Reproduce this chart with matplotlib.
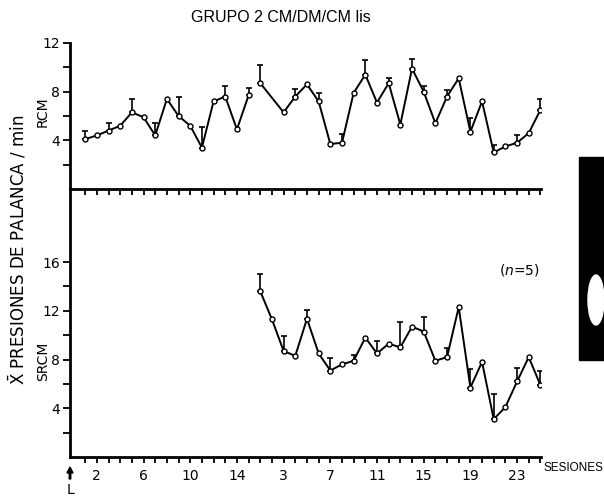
import numpy as np
import matplotlib
matplotlib.use("Agg")
import matplotlib.pyplot as plt
from matplotlib.patches import Rectangle, Ellipse, FancyArrow

nan = np.nan

# Session numbers within each phase
sessions_a = list(range(1, 16))          # first phase (15 sessions)
sessions_b = list(range(1, 26))          # second phase (25 sessions)

# RCM, first phase: means and tops of the error bars (nan = no bar)
rcm_a = [4.1, 4.4, 4.8, 5.2, 6.3, 5.9, 4.4, 7.4, 6.0, 5.2, 3.4, 7.2, 7.6, 4.9, 7.7]
rcm_a_top = [4.8, nan, 5.4, nan, 7.4, nan, 5.4, nan, 7.6, nan, 5.1, nan, 8.5, nan, 8.3]

# RCM, second phase
rcm_b = [8.7, nan, 6.3, 7.6, 8.6, 7.2, 3.7, 3.8, 7.9, 9.4, 7.1, 8.7, 5.3,
         9.9, 8.0, 5.4, 7.6, 9.1, 4.7, 7.2, 3.0, 3.5, 3.8, 4.6, 6.5]
rcm_b_top = [10.2, nan, nan, 8.2, nan, 7.9, nan, 4.55, nan, 10.6, nan, 9.1, nan,
             10.7, 8.5, nan, 8.1, nan, 5.8, nan, 3.65, nan, 4.4, nan, 7.4]

# SRCM, second phase
srcm_b = [13.6, 11.3, 8.7, 8.3, 11.35, 8.5, 7.1, 7.6, 7.9, 9.8, 8.5, 9.3, 9.0,
          10.7, 10.3, 7.9, 8.2, 12.3, 5.7, 7.8, 3.1, 4.1, 6.2, 8.2, 5.9]
srcm_b_top = [15.0, nan, 9.9, nan, 12.1, nan, 8.15, nan, 8.4, nan, 9.5, nan, 11.1,
              nan, 11.5, nan, 8.95, nan, 7.25, nan, 5.2, nan, 7.3, nan, 7.1]

# Tick labels on the session axis
labels_a = [2, 6, 10, 14]
labels_b = [3, 7, 11, 15, 19, 23]

n_a = len(sessions_a)


def pos_a(s):
    return np.asarray(s, dtype=float)


def pos_b(s):
    return np.asarray(s, dtype=float) + n_a


W, H = 604, 497
fig = plt.figure(figsize=(W / 100, H / 100), dpi=100)

left, right = 70 / W, 541 / W
ax_top = fig.add_axes([left, 1 - 189 / H, right - left, (189 - 43) / H])
ax_bot = fig.add_axes([left, 1 - 457 / H, right - left, (457 - 189) / H])

lw = 1.4
mk = dict(marker="o", markersize=3.6, markerfacecolor="white",
          markeredgecolor="black", markeredgewidth=1.0)


def draw_series(ax, x, y, top):
    x = np.asarray(x, float)
    y = np.asarray(y, float)
    top = np.asarray(top, float)
    ok = ~np.isnan(y)
    eb = ~np.isnan(top)
    ax.errorbar(x[eb], y[eb], yerr=[np.zeros(eb.sum()), top[eb] - y[eb]],
                fmt="none", ecolor="black", elinewidth=1.2, capsize=2.2,
                capthick=1.2, zorder=2)
    ax.plot(x[ok], y[ok], color="black", lw=lw, zorder=3, **mk)


draw_series(ax_top, pos_a(sessions_a), rcm_a, rcm_a_top)
draw_series(ax_top, pos_b(sessions_b), rcm_b, rcm_b_top)
draw_series(ax_bot, pos_b(sessions_b), srcm_b, srcm_b_top)

xmin, xmax = -0.3, 40.05
all_pos = np.concatenate([pos_a(sessions_a), pos_b(sessions_b)])
for ax in (ax_top, ax_bot):
    ax.set_xlim(xmin, xmax)
    ax.spines["right"].set_visible(False)
    ax.spines["top"].set_visible(False)
    for s in ("left", "bottom"):
        ax.spines[s].set_linewidth(2.0)
    ax.set_xticks(all_pos, minor=True)
    ax.tick_params(axis="both", which="both", direction="out", width=1.3,
                   colors="black", labelsize=10)
    ax.tick_params(axis="x", which="both", length=4)
    ax.tick_params(axis="y", which="both", length=5, pad=2)
    ax.patch.set_alpha(0)

ax_top.set_ylim(0, 12)
ax_top.set_yticks([2, 4, 6, 8, 10, 12])
ax_top.set_yticklabels(["", "4", "", "8", "", "12"])
ax_top.set_xticks([])
ax_top.set_xticks(all_pos, minor=True)

ax_bot.set_ylim(0, 22)
ax_bot.set_yticks([2, 4, 6, 8, 10, 12, 14, 16])
ax_bot.set_yticklabels(["", "4", "", "8", "", "12", "", "16"])
major = np.concatenate([pos_a(labels_a), pos_b(labels_b)])
ax_bot.set_xticks(major)
ax_bot.set_xticklabels([str(v) for v in labels_a + labels_b])
ax_bot.tick_params(axis="x", which="major", pad=5)

# Panel names
fig.text(43 / W, 1 - 112 / H, "RCM", rotation=90, ha="center", va="center",
         fontsize=10)
fig.text(43 / W, 1 - 361 / H, "SRCM", rotation=90, ha="center", va="center",
         fontsize=10)

# Common y label
fig.text(18 / W, 1 - 250 / H,
         r"$\mathregular{\bar{X}}$ PRESIONES DE PALANCA / min", rotation=90,
         ha="center", va="center", fontsize=12)

# Title
fig.text(281 / W, 1 - 17 / H, "GRUPO 2 CM/DM/CM lis", ha="center", va="center",
         fontsize=11.5, family=["Liberation Sans Narrow", "Liberation Sans"])

fig.text(540 / W, 1 - 270 / H, "($n$=5)", ha="right", va="center", fontsize=10)
fig.text(544 / W, 1 - 468 / H, "SESIONES", ha="left", va="center",
         fontsize=8.5, family="Liberation Sans")

# Start marker below the axis
fig.patches.append(FancyArrow(
    70 / W, 1 - 479 / H, 0, 12 / H, width=1.5 / W, head_width=6 / W,
    head_length=6 / H, color="black", transform=fig.transFigure,
    length_includes_head=True))
fig.text(70 / W, 1 - 490 / H, "L", ha="center", va="center", fontsize=10)

# Dark strip at the right edge of the page
fig.patches.append(Rectangle((579 / W, 1 - 360 / H), 25 / W, 203 / H,
                             transform=fig.transFigure, color="black"))
fig.patches.append(Ellipse((596 / W, 1 - 300 / H), 16 / W, 50 / H,
                           transform=fig.transFigure, color="white"))

fig.savefig("out.png", dpi=100)
